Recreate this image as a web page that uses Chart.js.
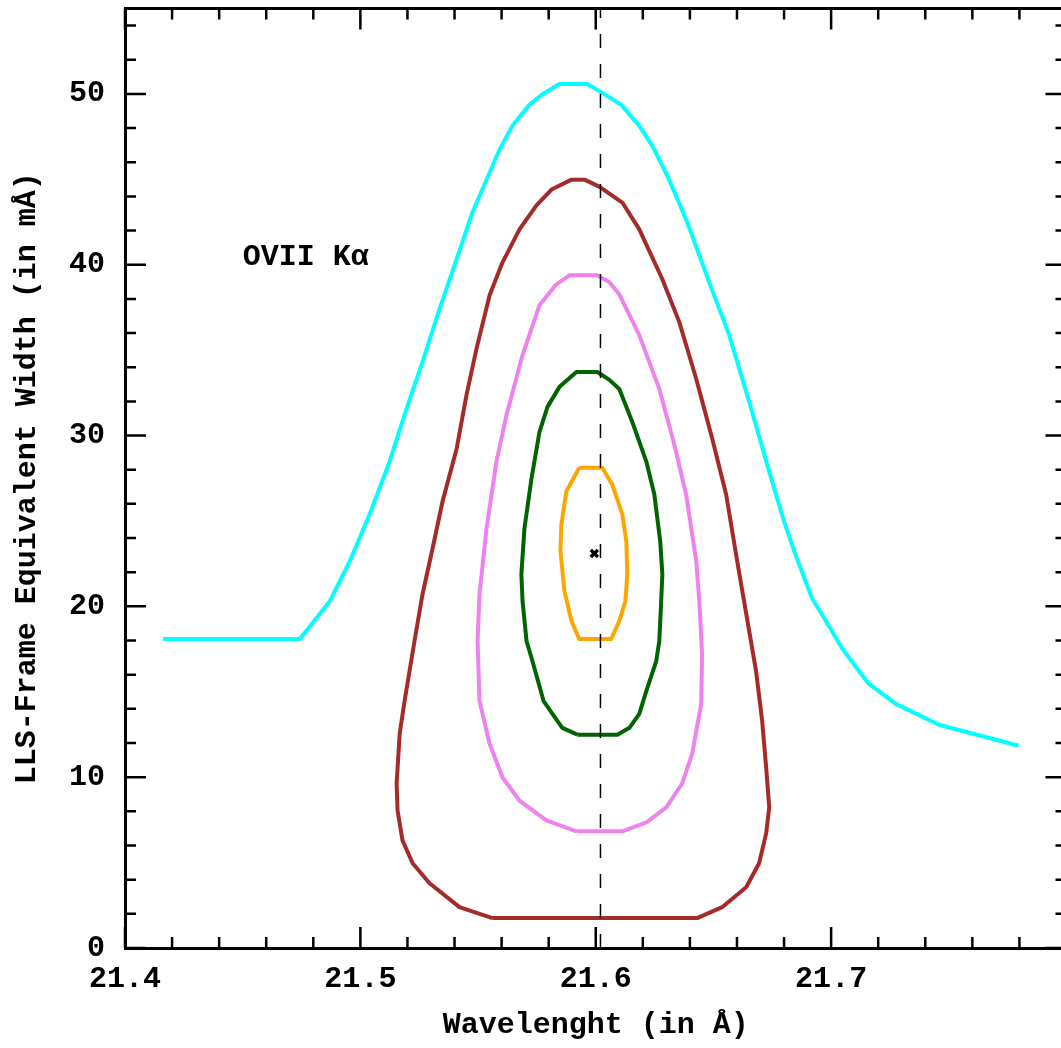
<!DOCTYPE html>
<html>
<head>
<meta charset="utf-8">
<script src="https://cdn.jsdelivr.net/npm/chart.js@4.4.1/dist/chart.umd.min.js"></script>
<style>
  html, body { margin: 0; padding: 0; background: #fff; overflow: hidden; }
  canvas { display: block; }
</style>
</head>
<body>
<canvas id="chart" width="1075" height="1048"></canvas>
<script>
// confidence contours: wavelength (A) vs LLS-frame equivalent width (mA)
const cyanWave = [21.4161, 21.4743, 21.4870, 21.4955, 21.5039, 21.5124, 21.5196, 21.5264, 21.5336, 21.5409, 21.5476, 21.5591, 21.5646, 21.5718, 21.5769, 21.5846, 21.5964, 21.6028, 21.6109, 21.6185, 21.6240, 21.6312, 21.6389, 21.6482, 21.6567, 21.6652, 21.6737, 21.6800, 21.6851, 21.6919, 21.6978, 21.7046, 21.7118, 21.7161, 21.7275, 21.7458, 21.7797];
const cyanEW   = [18.09, 18.09, 20.30, 22.64, 25.38, 28.47, 31.56, 34.31, 37.40, 40.32, 43.06, 46.73, 48.13, 49.36, 49.94, 50.58, 50.58, 50.06, 49.36, 48.13, 46.97, 44.98, 42.47, 38.97, 35.88, 31.97, 27.89, 24.97, 22.93, 20.48, 19.14, 17.56, 16.22, 15.46, 14.29, 13.07, 11.84];

const brownWave = [21.5561, 21.5421, 21.5294, 21.5222, 21.5179, 21.5158, 21.5154, 21.5167, 21.5188, 21.5230, 21.5264, 21.5307, 21.5349, 21.5409, 21.5451, 21.5493, 21.5549, 21.5604, 21.5676, 21.5748, 21.5812, 21.5897, 21.5952, 21.6015, 21.6113, 21.6185, 21.6283, 21.6355, 21.6427, 21.6495, 21.6554, 21.6601, 21.6652, 21.6681, 21.6707, 21.6724, 21.6737, 21.6724, 21.6694, 21.6639, 21.6537, 21.6431, 21.5561];
const brownEW   = [1.75, 2.39, 3.79, 4.96, 6.30, 8.05, 9.63, 12.54, 14.47, 17.97, 20.71, 23.40, 26.14, 29.23, 32.38, 35.06, 38.21, 40.14, 42.07, 43.47, 44.40, 44.98, 44.98, 44.57, 43.64, 42.07, 39.15, 36.64, 33.31, 29.81, 26.55, 22.64, 18.55, 16.22, 13.30, 10.56, 8.23, 6.71, 4.96, 3.56, 2.39, 1.75, 1.75];

const violetWave = [21.5918, 21.5790, 21.5676, 21.5604, 21.5549, 21.5506, 21.5498, 21.5506, 21.5536, 21.5578, 21.5621, 21.5689, 21.5761, 21.5829, 21.5888, 21.6007, 21.6058, 21.6100, 21.6185, 21.6270, 21.6334, 21.6384, 21.6427, 21.6440, 21.6452, 21.6448, 21.6410, 21.6367, 21.6300, 21.6215, 21.6113, 21.5918];
const violetEW   = [6.83, 7.47, 8.63, 9.98, 11.96, 14.47, 17.97, 20.71, 24.56, 28.47, 31.21, 34.71, 37.63, 38.80, 39.38, 39.38, 38.97, 38.27, 35.88, 32.73, 29.46, 26.55, 22.64, 20.30, 17.21, 14.29, 11.38, 9.63, 8.23, 7.35, 6.83, 6.83];

const greenWave = [21.5922, 21.5858, 21.5816, 21.5778, 21.5731, 21.5706, 21.5689, 21.5684, 21.5697, 21.5727, 21.5761, 21.5795, 21.5846, 21.5918, 21.6007, 21.6058, 21.6100, 21.6155, 21.6215, 21.6249, 21.6274, 21.6283, 21.6278, 21.6270, 21.6257, 21.6215, 21.6185, 21.6143, 21.6092, 21.5922];
const greenEW   = [12.49, 12.89, 13.71, 14.47, 16.80, 17.97, 20.30, 21.88, 24.56, 27.48, 30.22, 31.68, 32.85, 33.72, 33.72, 33.26, 32.73, 30.81, 28.47, 26.55, 23.80, 21.88, 20.30, 17.97, 16.80, 15.05, 13.71, 12.89, 12.49, 12.49];

const orangeWave = [21.5930, 21.6028, 21.6070, 21.6113, 21.6130, 21.6134, 21.6126, 21.6100, 21.6066, 21.5930, 21.5897, 21.5867, 21.5850, 21.5854, 21.5875, 21.5930];
const orangeEW   = [28.12, 28.12, 27.13, 25.38, 23.80, 21.88, 20.30, 19.14, 18.09, 18.09, 19.14, 20.89, 23.22, 24.80, 26.72, 28.12];

const bestFit = { x: 21.5994, y: 23.1 };
const restWave = 21.602;
const lineLabel = 'OVII Kα';
const labelPos = { x: 21.450, y: 40.4 };

const xTicks = [21.4, 21.5, 21.6, 21.7];
const yTicks = [0, 10, 20, 30, 40, 50];

const FONT = 'Liberation Mono';

const toPoints = (xs, ys) => xs.map((x, i) => ({ x, y: ys[i] }));

function contour(xs, ys, color) {
    return {
        data: toPoints(xs, ys),
        showLine: true,
        borderColor: color,
        borderWidth: 4,
        pointRadius: 0,
        tension: 0,
        fill: false,
        borderJoinStyle: 'round'
    };
}

// no extra room for edge labels: the frame sits right at the padding
function noPad(s) {
    s.paddingTop = 0;
    s.paddingBottom = 0;
    s.paddingLeft = 0;
    s.paddingRight = 0;
}

// inside ticks on all four sides + top/right frame + text label
const framePlugin = {
    id: 'frame',
    afterDraw(chart) {
        const { ctx, chartArea: a, scales: { x, y } } = chart;
        ctx.save();
        ctx.strokeStyle = '#000';
        ctx.lineWidth = 3;
        ctx.beginPath();
        ctx.moveTo(a.left, a.top);
        ctx.lineTo(a.right, a.top);
        ctx.lineTo(a.right, a.bottom);
        ctx.stroke();

        ctx.lineWidth = 2.5;
        ctx.beginPath();
        for (let i = 0; i <= 20; i++) {
            const px = x.getPixelForValue(21.4 + i * 0.02);
            const len = i % 5 === 0 ? 21 : 11;
            ctx.moveTo(px, a.bottom);
            ctx.lineTo(px, a.bottom - len);
            ctx.moveTo(px, a.top);
            ctx.lineTo(px, a.top + len);
        }
        for (let v = 0; v <= 55; v += 2) {
            const py = y.getPixelForValue(v);
            const len = v % 10 === 0 ? 21 : 11;
            ctx.moveTo(a.left, py);
            ctx.lineTo(a.left + len, py);
            ctx.moveTo(a.right, py);
            ctx.lineTo(a.right - len, py);
        }
        ctx.stroke();

        ctx.fillStyle = '#000';
        ctx.font = 'bold 30px "' + FONT + '"';
        ctx.textBaseline = 'middle';
        ctx.textAlign = 'left';
        ctx.fillText(lineLabel, x.getPixelForValue(labelPos.x), y.getPixelForValue(labelPos.y));
        ctx.restore();
    }
};

new Chart(document.getElementById('chart'), {
    type: 'scatter',
    data: {
        datasets: [
            {
                data: [bestFit],
                pointStyle: 'crossRot',
                pointRadius: 5,
                pointBorderWidth: 3.5,
                borderColor: '#000',
                backgroundColor: '#000'
            },
            {
                data: [{ x: restWave, y: 0 }, { x: restWave, y: 55 }],
                showLine: true,
                borderColor: '#000',
                borderWidth: 1.5,
                borderDash: [14, 16],
                pointRadius: 0
            },
            contour(orangeWave, orangeEW, '#ffa500'),
            contour(greenWave, greenEW, '#006400'),
            contour(violetWave, violetEW, '#ee82ee'),
            contour(brownWave, brownEW, '#a52a2a'),
            contour(cyanWave, cyanEW, '#00ffff')
        ]
    },
    options: {
        responsive: false,
        animation: false,
        events: [],
        layout: { padding: { top: 6, right: 4, left: 0, bottom: 0 } },
        plugins: { legend: { display: false }, tooltip: { enabled: false } },
        scales: {
            x: {
                type: 'linear',
                min: 21.4,
                max: 21.8,
                afterFit: s => { s.height = 100; noPad(s); },
                afterBuildTicks: s => { s.ticks = xTicks.map(v => ({ value: v })); },
                grid: { display: false, drawTicks: false },
                border: { display: true, color: '#000', width: 3 },
                ticks: {
                    padding: 13,
                    color: '#000',
                    maxRotation: 0,
                    font: { family: FONT, size: 30, weight: 'bold' },
                    callback: v => v.toFixed(1)
                },
                title: {
                    display: true,
                    text: 'Wavelenght (in Å)',
                    color: '#000',
                    padding: { top: 0, bottom: 5 },
                    font: { family: FONT, size: 30, weight: 'bold' }
                }
            },
            y: {
                type: 'linear',
                min: 0,
                max: 55,
                afterFit: s => { s.width = 125; noPad(s); },
                afterBuildTicks: s => { s.ticks = yTicks.map(v => ({ value: v })); },
                grid: { display: false, drawTicks: false },
                border: { display: true, color: '#000', width: 3 },
                ticks: {
                    padding: 20,
                    color: '#000',
                    font: { family: FONT, size: 30, weight: 'bold' },
                    callback: v => String(v)
                },
                title: {
                    display: true,
                    text: 'LLS-Frame Equivalent Width (in mÅ)',
                    color: '#000',
                    padding: { top: 9, bottom: 0 },
                    font: { family: FONT, size: 30, weight: 'bold' }
                }
            }
        }
    },
    plugins: [framePlugin]
});
</script>
</body>
</html>
